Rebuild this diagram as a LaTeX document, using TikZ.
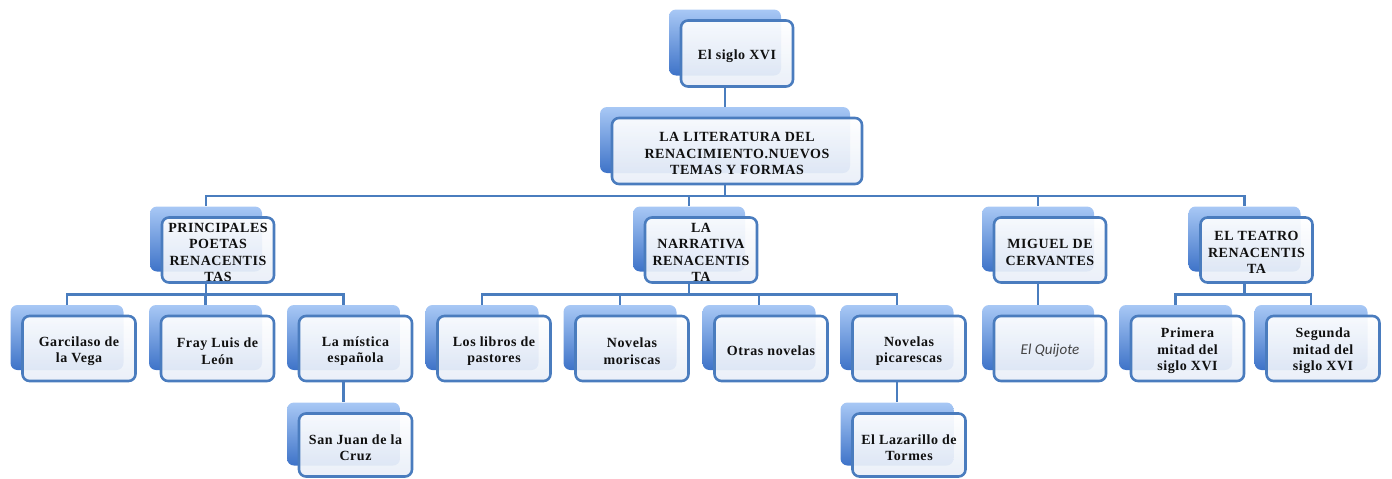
\documentclass[tikz,border=0pt]{standalone}
\usepackage{fontspec}
\setmainfont{Liberation Serif}[LetterSpace=4]
\newfontfamily\titlefont{Carlito}
\usetikzlibrary{calc,backgrounds}

\definecolor{backtop}{HTML}{A8C8F5}
\definecolor{backbot}{HTML}{3E73C8}
\definecolor{frameblue}{HTML}{4A7CBE}
\definecolor{linkblue}{HTML}{4A7DBE}
\definecolor{frontbot}{HTML}{E8EEF8}
\definecolor{inktext}{HTML}{101010}
\definecolor{inkgray}{HTML}{444444}

\tikzset{
  backbox/.style={rounded corners=7pt, top color=backtop, bottom color=backbot,
    draw=none, inner sep=0pt},
  frontbox/.style={rounded corners=7pt, draw=frameblue, line width=2.6pt,
    top color=white, bottom color=frontbot, fill opacity=0.92, inner sep=0pt},
  boxtext/.style={inner sep=0pt, align=center, text=inktext,
    font=\fontsize{14}{16.5}\selectfont\bfseries},
  conn/.style={draw=linkblue, line width=2.5pt},
}

% #1 name, #2 x, #3 y (pixels, downward), #4 width, #5 height, #6 text
\newcommand\orgbox[6]{%
  \node[backbox, minimum width=#4pt, minimum height=#5pt] (#1-b) at ({#2-12},{#3-11}) {};
  \node[frontbox, minimum width=#4pt, minimum height=#5pt] (#1) at (#2,#3) {};
  \node[boxtext] (#1-t) at ([yshift=-2.5pt]#1.center) {#6};
}
% elbow connector from a parent box down to a child box
\newcommand\orglink[2]{%
  \draw[conn] (#1.south -| #1-b.center)
    |- ($(#1.south -| #1-b.center)!.5!(#2-b.north)$) -| (#2-b.north);
}

\begin{document}
\begin{tikzpicture}[x=1pt, y=-1pt]
  \useasboundingbox (0,0) rectangle (1392,479);

  % top levels
  \orgbox{siglo}{737}{53.5}{112}{66}{El siglo XVI}
  \orgbox{lit}{737}{151}{250}{66}{LA LITERATURA DEL\\RENACIMIENTO.NUEVOS\\TEMAS Y FORMAS}

  % second level
  \orgbox{poetas}{218}{250}{112}{65}{PRINCIPALES\\POETAS\\RENACENTIS\\TAS}
  \orgbox{narr}{701}{250}{112}{65}{LA\\NARRATIVA\\RENACENTIS\\TA}
  \orgbox{miguel}{1050}{250}{112}{65}{MIGUEL DE\\CERVANTES}
  \orgbox{teatro}{1256.5}{250}{112}{65}{EL TEATRO\\RENACENTIS\\TA}

  % third level
  \orgbox{garci}{79}{348.5}{113}{65}{Garcilaso de\\la Vega}
  \orgbox{fray}{217.5}{348.5}{113}{65}{Fray Luis de\\León}
  \orgbox{mistica}{355.5}{348.5}{113}{65}{La mística\\española}
  \orgbox{libros}{494}{348.5}{113}{65}{Los libros de\\pastores}
  \orgbox{moriscas}{632}{348.5}{113}{65}{Novelas\\moriscas}
  \orgbox{otras}{771}{348.5}{113}{65}{Otras novelas}
  \orgbox{picar}{909}{348.5}{113}{65}{Novelas\\picarescas}
  \orgbox{quijote}{1050}{348.5}{112}{65}{{\titlefont\mdseries\itshape\color{inkgray}\fontsize{15}{17}\selectfont El Quijote}}
  \orgbox{primera}{1187.5}{348.5}{113}{65}{Primera\\mitad del\\siglo XVI}
  \orgbox{segunda}{1323}{348.5}{113}{65}{Segunda\\mitad del\\siglo XVI}

  % fourth level
  \orgbox{sanjuan}{355.5}{445}{113}{63}{San Juan de la\\Cruz}
  \orgbox{lazar}{909}{445}{113}{63}{El Lazarillo de\\Tormes}

  \begin{scope}[on background layer]
    \orglink{siglo}{lit}
    \orglink{lit}{poetas}
    \orglink{lit}{narr}
    \orglink{lit}{miguel}
    \orglink{lit}{teatro}
    \orglink{poetas}{garci}
    \orglink{poetas}{fray}
    \orglink{poetas}{mistica}
    \orglink{narr}{libros}
    \orglink{narr}{moriscas}
    \orglink{narr}{otras}
    \orglink{narr}{picar}
    \orglink{miguel}{quijote}
    \orglink{teatro}{primera}
    \orglink{teatro}{segunda}
    \orglink{mistica}{sanjuan}
    \orglink{picar}{lazar}
  \end{scope}
\end{tikzpicture}
\end{document}
